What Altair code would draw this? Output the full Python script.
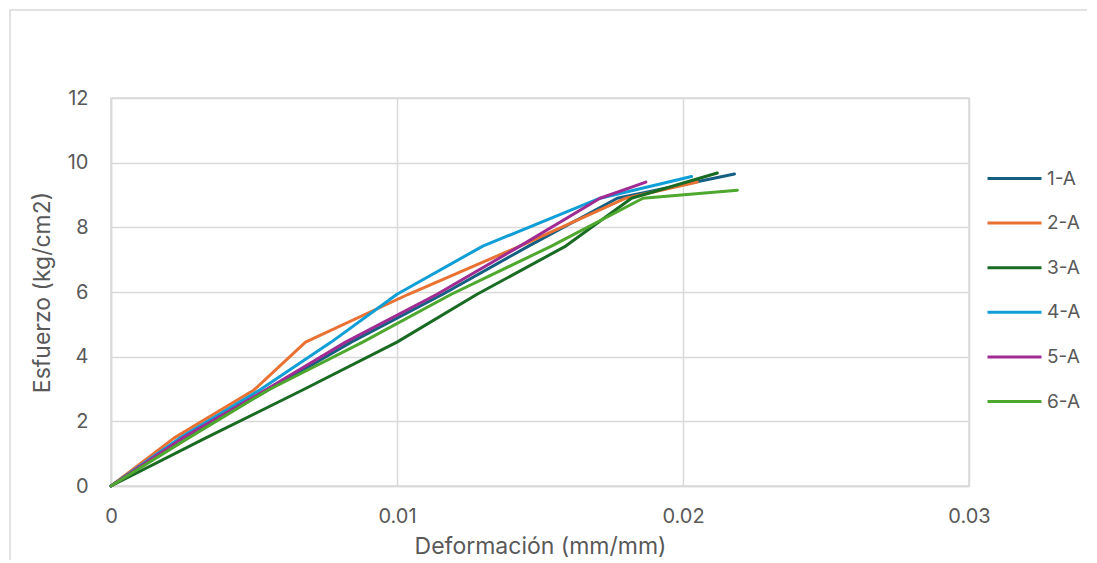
import altair as alt
import pandas as pd

series_names = ["1-A", "2-A", "3-A", "4-A", "5-A", "6-A"]
colors = ["#156082", "#E97132", "#196B24", "#0F9ED5", "#A02B93", "#4EA72E"]

stress_steps = [0, 1.48, 2.97, 4.45, 5.93, 7.42, 8.90]

def_1A = [0, 0.0025, 0.0055, 0.0084, 0.0116, 0.0146, 0.0177, 0.0218]
str_1A = stress_steps + [9.65]
def_2A = [0, 0.0022, 0.0050, 0.0068, 0.0104, 0.0143, 0.0180, 0.0205]
str_2A = stress_steps + [9.40]
def_3A = [0, 0.0033, 0.0067, 0.0100, 0.0128, 0.0159, 0.0182, 0.0212]
str_3A = stress_steps + [9.68]
def_4A = [0, 0.0024, 0.0052, 0.0077, 0.0100, 0.0130, 0.0171, 0.0203]
str_4A = stress_steps + [9.57]
def_5A = [0, 0.0025, 0.0054, 0.0082, 0.0114, 0.0143, 0.0171, 0.0187]
str_5A = stress_steps + [9.40]
def_6A = [0, 0.0027, 0.0055, 0.0088, 0.0119, 0.0154, 0.0186, 0.0219]
str_6A = stress_steps + [9.15]

all_def = [def_1A, def_2A, def_3A, def_4A, def_5A, def_6A]
all_str = [str_1A, str_2A, str_3A, str_4A, str_5A, str_6A]

rows = []
for name, xs, ys in zip(series_names, all_def, all_str):
    for i, (x, y) in enumerate(zip(xs, ys)):
        rows.append({"serie": name, "orden": i, "def": x, "esf": y})
df = pd.DataFrame(rows)

font = "Inter"
gray = "#595959"
grid = "#D9D9D9"

frame = alt.Chart(pd.DataFrame({"a": [0]})).mark_rect(
    fill=None, stroke=grid, strokeWidth=1.5, clip=False
).encode(
    x=alt.value(-101), x2=alt.value(1100), y=alt.value(-88), y2=alt.value(600)
)

lines = alt.Chart(df).mark_line(strokeWidth=3, strokeJoin="round", strokeCap="round").encode(
    x=alt.X("def:Q",
            scale=alt.Scale(domain=[0, 0.03], nice=False),
            axis=alt.Axis(title="Deformación (mm/mm)", values=[0, 0.01, 0.02, 0.03],
                          format="~g", labelPadding=20, titlePadding=9, labelFlush=False)),
    y=alt.Y("esf:Q",
            scale=alt.Scale(domain=[0, 12], nice=False),
            axis=alt.Axis(title="Esfuerzo (kg/cm2)", values=[0, 2, 4, 6, 8, 10, 12],
                          labelPadding=23, titlePadding=13)),
    color=alt.Color("serie:N",
                    scale=alt.Scale(domain=series_names, range=colors),
                    legend=alt.Legend(title=None, orient="none", legendX=875, legendY=52,
                                      symbolType="stroke", symbolSize=2916,
                                      symbolStrokeWidth=3, labelFontSize=19,
                                      labelColor=gray, labelFont=font,
                                      rowPadding=5.6, labelOffset=4)),
    order="orden:Q",
)

chart = alt.layer(frame, lines).properties(
    width=858, height=388,
    padding={"left": 103, "top": 90, "right": 118, "bottom": 74},
    autosize="none",
).configure_view(stroke=grid, strokeWidth=1.5).configure_axis(
    gridColor=grid, gridWidth=1.5, domainColor=grid, domainWidth=1.5,
    ticks=False, labelFont=font, titleFont=font, labelFontSize=20, titleFontSize=23,
    labelColor=gray, titleColor=gray, titleFontWeight="normal"
)

chart.save("out.html", embed_options={"renderer": "svg", "actions": False})
